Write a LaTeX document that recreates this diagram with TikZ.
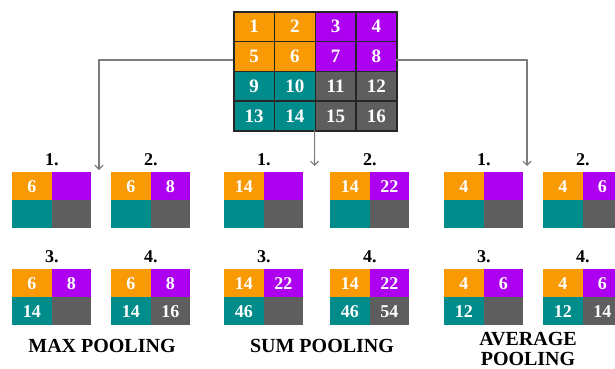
\documentclass[tikz,border=0pt]{standalone}
\usepackage{fontspec}
\setmainfont{Liberation Serif}
\usetikzlibrary{arrows.meta}

\definecolor{cOrange}{HTML}{F99A05}
\definecolor{cPurple}{HTML}{AE00F0}
\definecolor{cTeal}{HTML}{008C8A}
\definecolor{cGray}{HTML}{5E5E5E}
\definecolor{cLine}{HTML}{7C7C7C}

\tikzset{
  bigcell/.style={draw=black!85, line width=1.6pt, minimum width=40.75pt,
    minimum height=29.75pt, inner sep=0pt, anchor=north west, text=white,
    font=\fontsize{19}{19}\selectfont\bfseries},
  poolcell/.style={minimum width=39.5pt, minimum height=28pt, inner sep=0pt,
    anchor=north west, text=white, font=\fontsize{18}{18}\selectfont\bfseries},
  steplabel/.style={font=\fontsize{18}{18}\selectfont\bfseries, anchor=base, inner sep=0pt},
  title/.style={font=\fontsize{20}{20}\selectfont\bfseries, align=center},
  conn/.style={draw=cLine, line width=1.1pt, -{Straight Barb[length=4pt,width=8pt]}}
}

% 2x2 pooled block: name, left x, top y, step label, four values
\newcommand\poolgrid[8]{%
  \node[poolcell, fill=cOrange] (#1a) at ({#2},{#3}) {#5};
  \node[poolcell, fill=cPurple] (#1b) at ({#2+39.5},{#3}) {#6};
  \node[poolcell, fill=cTeal]   (#1c) at ({#2},{#3+28}) {#7};
  \node[poolcell, fill=cGray]   (#1d) at ({#2+39.5},{#3+28}) {#8};
  \node[steplabel] (#1l) at ([yshift=7pt]#1a.north east) {#4};
}

\begin{document}
\begin{tikzpicture}[x=1pt, y=-1pt]
\useasboundingbox (0,0) rectangle (615,369);
\clip (0,0) rectangle (615,369);

% input feature map 4x4
\foreach \n/\c/\r/\col in {1/1/1/cOrange, 2/2/1/cOrange, 3/3/1/cPurple, 4/4/1/cPurple,
    5/1/2/cOrange, 6/2/2/cOrange, 7/3/2/cPurple, 8/4/2/cPurple,
    9/1/3/cTeal, 10/2/3/cTeal, 11/3/3/cGray, 12/4/3/cGray,
    13/1/4/cTeal, 14/2/4/cTeal, 15/3/4/cGray, 16/4/4/cGray}{
  \node[bigcell, fill=\col] (in\n) at ({233+(\c-1)*40.75},{11+(\r-1)*29.75}) {\n};
}
\node[minimum width=163pt, minimum height=119pt, inner sep=0pt, anchor=north west] (grid) at (233,11) {};

% connectors
\coordinate (lc) at (99,60);
\coordinate (ltip) at (99,170);
\coordinate (rc) at (527,60);
\coordinate (rtip) at (527,166);
\coordinate (mtip) at (314.5,166);
\draw[conn] (grid.west |- lc) -- (lc) -- (ltip);
\draw[conn] (grid.south) -- (mtip);
\draw[conn] (grid.east |- rc) -- (rc) -- (rtip);

% max pooling
\poolgrid{mx1}{12}{172}{1.}{6}{}{}{}
\poolgrid{mx2}{111}{172}{2.}{6}{8}{}{}
\poolgrid{mx3}{12}{269}{3.}{6}{8}{14}{}
\poolgrid{mx4}{111}{269}{4.}{6}{8}{14}{16}

% sum pooling
\poolgrid{sm1}{224}{172}{1.}{14}{}{}{}
\poolgrid{sm2}{330}{172}{2.}{14}{22}{}{}
\poolgrid{sm3}{224}{269}{3.}{14}{22}{46}{}
\poolgrid{sm4}{330}{269}{4.}{14}{22}{46}{54}

% average pooling
\poolgrid{av1}{444}{172}{1.}{4}{}{}{}
\poolgrid{av2}{543}{172}{2.}{4}{6}{}{}
\poolgrid{av3}{444}{269}{3.}{4}{6}{12}{}
\poolgrid{av4}{543}{269}{4.}{4}{6}{12}{14}

% titles
\node[title] (tmax) at (102,346) {MAX POOLING};
\node[title] (tsum) at (322,346) {SUM POOLING};
\node[title] (tavg) at (528,349) {AVERAGE\\POOLING};
\end{tikzpicture}
\end{document}
